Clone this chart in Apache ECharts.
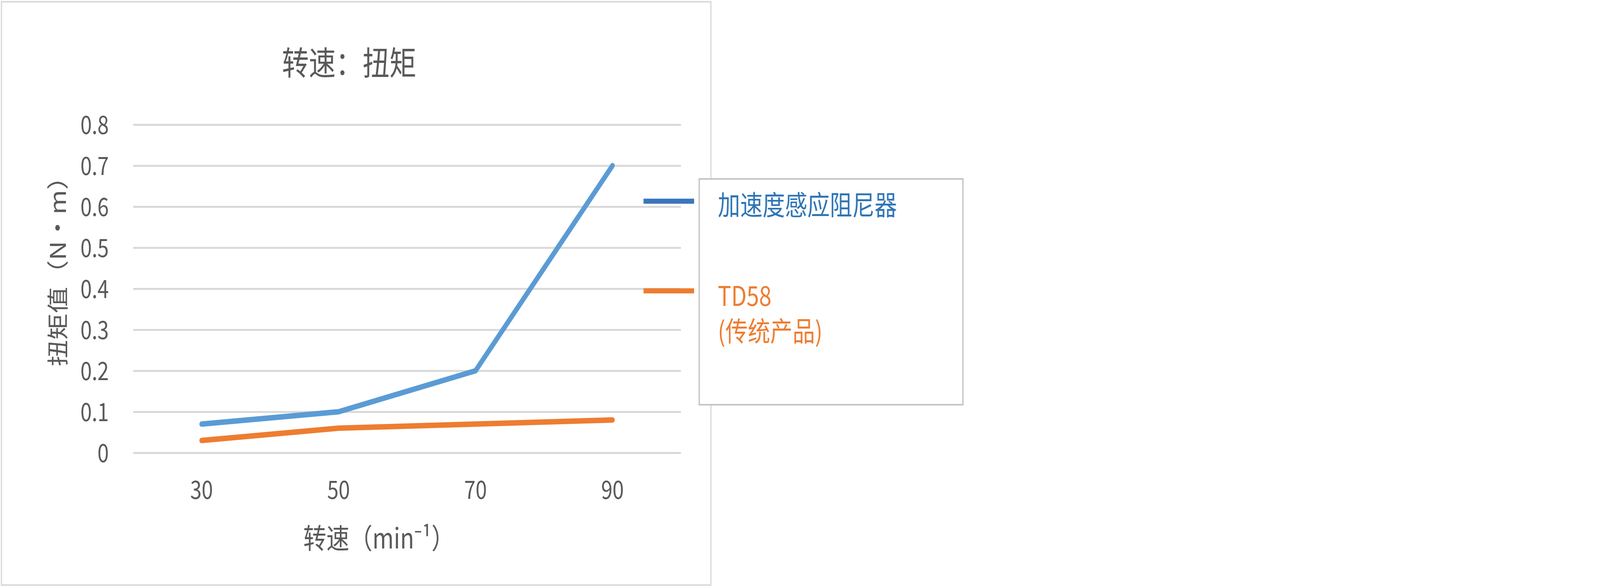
<!DOCTYPE html>
<html>
<head>
<meta charset="utf-8">
<script src="https://cdn.jsdelivr.net/npm/echarts@6/dist/echarts.min.js"></script>
<style>
html,body{margin:0;padding:0;background:#fff;overflow:hidden;}
#chart{width:5000px;height:1500px;transform-origin:0 0;}
</style>
</head>
<body>
<div id="chart"></div>
<script>
var categories = ['30', '50', '70', '90'];
var seriesNames = ['加速度感应阻尼器', 'TD58\n(传统产品)'];
var accelDamper = [0.07, 0.10, 0.20, 0.70];
var td58 = [0.03, 0.06, 0.07, 0.08];
var titleText = '转速：扭矩';
var xAxisName = '转速（min⁻¹）';
var yAxisName = '扭矩值（N·m）';

// The chart is laid out for a 5000x1500 page; if the window is narrower, fit the page into it.
var PAGE_W = 5000, PAGE_H = 1500;
var el = document.getElementById('chart');
var sx = Math.min(1, (window.innerWidth || PAGE_W) / PAGE_W);
var sy = Math.min(1, (window.innerHeight || PAGE_H) / PAGE_H);
if (sx < 1 || sy < 1) { el.style.transform = 'scale(' + sx + ',' + sy + ')'; }

var FONT = '"Noto Sans CJK SC", "Noto Sans", sans-serif';
// legend icons: a bar at the top of the icon box, plus a zero-area point that sets the box height
var blueIcon = 'path://M0,0 L158,0 L158,13 L0,13 Z M0,31 L0.01,31';
var orangeIcon = 'path://M0,0 L158,0 L158,13 L0,13 Z M0,128 L0.01,128';
var chart = echarts.init(el, null, {renderer: 'canvas', width: PAGE_W, height: PAGE_H});
var option = {
  backgroundColor: '#ffffff',
  animation: false,
  title: {
    text: titleText,
    left: 881,
    top: 118,
    padding: 0,
    textStyle: {fontFamily: FONT, fontSize: 84, fontWeight: 'normal', color: '#595959'}
  },
  graphic: [
    {type: 'rect', left: 2, top: 2, z: -1, shape: {width: 2217, height: 1493},
     style: {fill: 'none', stroke: '#d9d9d9', lineWidth: 4}},
    {type: 'rect', left: 2183, top: 456, z: 0, shape: {width: 824, height: 578},
     style: {fill: '#ffffff', stroke: '#c4c4c4', lineWidth: 4}}
  ],
  legend: [
    {
      left: 2011, top: 479, padding: 0, orient: 'vertical',
      itemWidth: 158, itemHeight: 31,
      data: [{name: seriesNames[0], icon: blueIcon, itemStyle: {color: '#3a76bb', borderWidth: 0},
              textStyle: {color: '#2e75b6'}}],
      textStyle: {fontFamily: FONT, fontSize: 70, lineHeight: 90, padding: [0, 0, 0, 69]}
    },
    {
      left: 2011, top: 711, padding: 0, orient: 'vertical',
      itemWidth: 158, itemHeight: 128,
      data: [{name: seriesNames[1], icon: orangeIcon, itemStyle: {color: '#ed7d31', borderWidth: 0},
              textStyle: {color: '#ed7d31'}}],
      textStyle: {fontFamily: FONT, fontSize: 70, lineHeight: 91, padding: [0, 0, 0, 69]}
    }
  ],
  grid: {left: 416, right: 2872, top: 319, bottom: 341, containLabel: false},
  xAxis: {
    type: 'category',
    data: categories,
    boundaryGap: true,
    axisLine: {show: false},
    axisTick: {show: false},
    axisLabel: {fontFamily: FONT, fontSize: 64, color: '#595959', margin: 62},
    name: xAxisName,
    nameLocation: 'middle',
    nameGap: 182,
    nameTextStyle: {fontFamily: FONT, fontSize: 72, color: '#595959', padding: [0, 176, 0, 0]}
  },
  yAxis: {
    type: 'value',
    min: 0, max: 0.8, interval: 0.1,
    axisLine: {show: false},
    axisTick: {show: false},
    axisLabel: {fontFamily: FONT, fontSize: 64, color: '#595959', margin: 76},
    splitLine: {lineStyle: {color: '#d9d9d9', width: 5}},
    name: yAxisName,
    nameLocation: 'middle',
    nameGap: 202,
    nameTextStyle: {fontFamily: FONT, fontSize: 68, color: '#595959', padding: [0, 0, 0, 122]}
  },
  series: [
    {name: seriesNames[0], type: 'line', data: accelDamper, showSymbol: false, symbol: 'none',
     lineStyle: {color: '#5b9bd5', width: 14, cap: 'round', join: 'round'}, itemStyle: {color: '#5b9bd5'}},
    {name: seriesNames[1], type: 'line', data: td58, showSymbol: false, symbol: 'none',
     lineStyle: {color: '#ed7d31', width: 14, cap: 'round', join: 'round'}, itemStyle: {color: '#ed7d31'}}
  ]
};
chart.setOption(option);
</script>
</body>
</html>
